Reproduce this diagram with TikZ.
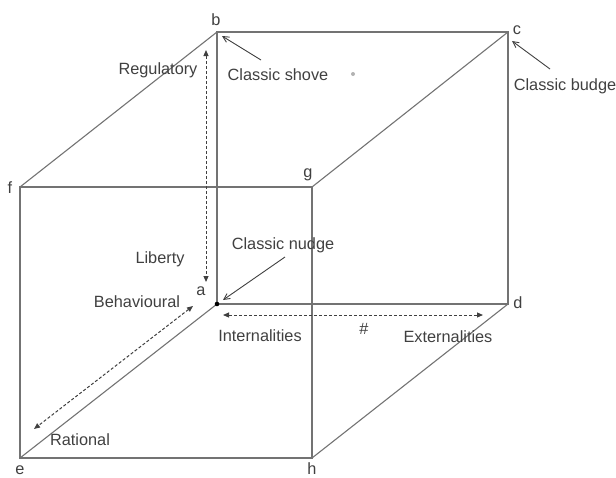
\documentclass[tikz,border=0pt]{standalone}
\usepackage{fontspec}
\setmainfont{Liberation Sans}
\usetikzlibrary{arrows.meta}
\begin{document}
\begin{tikzpicture}[x=1pt,y=-1pt,
  edge/.style={draw=black!55,line width=1.1pt},
  lbl/.style={text=black!75,font=\fontsize{16.3}{19}\selectfont,inner sep=0pt},
  pointer/.style={draw=black!75,line width=0.9pt,-{Straight Barb[length=6pt,width=6pt]}},
  span/.style={draw=black!75,line width=1pt,dash pattern=on 3pt off 2pt,
    {Triangle[length=6pt,width=5pt]}-{Triangle[length=6pt,width=5pt]}}]
\useasboundingbox (0,0) rectangle (616,477);
% cube corners
\coordinate (f) at (20,187);
\coordinate (g) at (312,187);
\coordinate (h) at (312,458);
\coordinate (e) at (20,458);
\coordinate (b) at (217,32);
\coordinate (c) at (508,32);
\coordinate (d) at (508,304);
\coordinate (a) at (217,304);
% faces and depth edges
\draw[edge] (f) -- (g) -- (h) -- (e) -- cycle;
\draw[edge] (b) -- (c) -- (d) -- (a) -- cycle;
\draw[edge] (f) -- (b) (g) -- (c) (h) -- (d) (e) -- (a);
% corner letters
\node[lbl] (lb) at (216,20) {b};
\node[lbl] (lc) at (517,30) {c};
\node[lbl] (lf) at (10,188) {f};
\node[lbl] (lg) at (308,175) {g};
\node[lbl] (la) at (201,291) {a};
\node[lbl] (ld) at (518,303) {d};
\node[lbl] (le) at (20,470) {e};
\node[lbl] (lh) at (312,469) {h};
% dimension labels
\node[lbl] (reg) at (158,70) {Regulatory};
\node[lbl] (lib) at (160,259) {Liberty};
\node[lbl] (beh) at (137,302) {Behavioural};
\node[lbl] (rat) at (80,440) {Rational};
\node[lbl] (int) at (260,336) {Internalities};
\node[lbl] (ext) at (448,337) {Externalities};
\node[lbl] (hash) at (364,329) {\#};
\node[lbl] (shove) at (278,75) {Classic shove};
\node[lbl] (budge) at (565,86) {Classic budge};
\node[lbl] (nudge) at (283,245) {Classic nudge};
% marker at corner a and faint dot
\fill[black] (a) circle (2.3pt);
\fill[black!30] (353,74) circle (2pt);
% double-headed dashed axes
\coordinate (vtop) at (206,50);
\coordinate (vbot) at (206,282);
\coordinate (dtop) at (193,306);
\coordinate (dbot) at (34,429);
\coordinate (hl) at (223,315);
\coordinate (hr) at (483,315);
\draw[span] (vtop) -- (vbot);
\draw[span] (dtop) -- (dbot);
\draw[span] (hl) -- (hr);
% pointers from the labels to the corners
\coordinate (shoveTail) at (261,60);
\coordinate (budgeTail) at (550,69);
\coordinate (nudgeTail) at (285,257);
\coordinate (shoveTip) at (222,36);
\coordinate (budgeTip) at (512,41);
\coordinate (nudgeTip) at (223,300);
\draw[pointer] (shoveTail) -- (shoveTip);
\draw[pointer] (budgeTail) -- (budgeTip);
\draw[pointer] (nudgeTail) -- (nudgeTip);
\end{tikzpicture}
\end{document}
